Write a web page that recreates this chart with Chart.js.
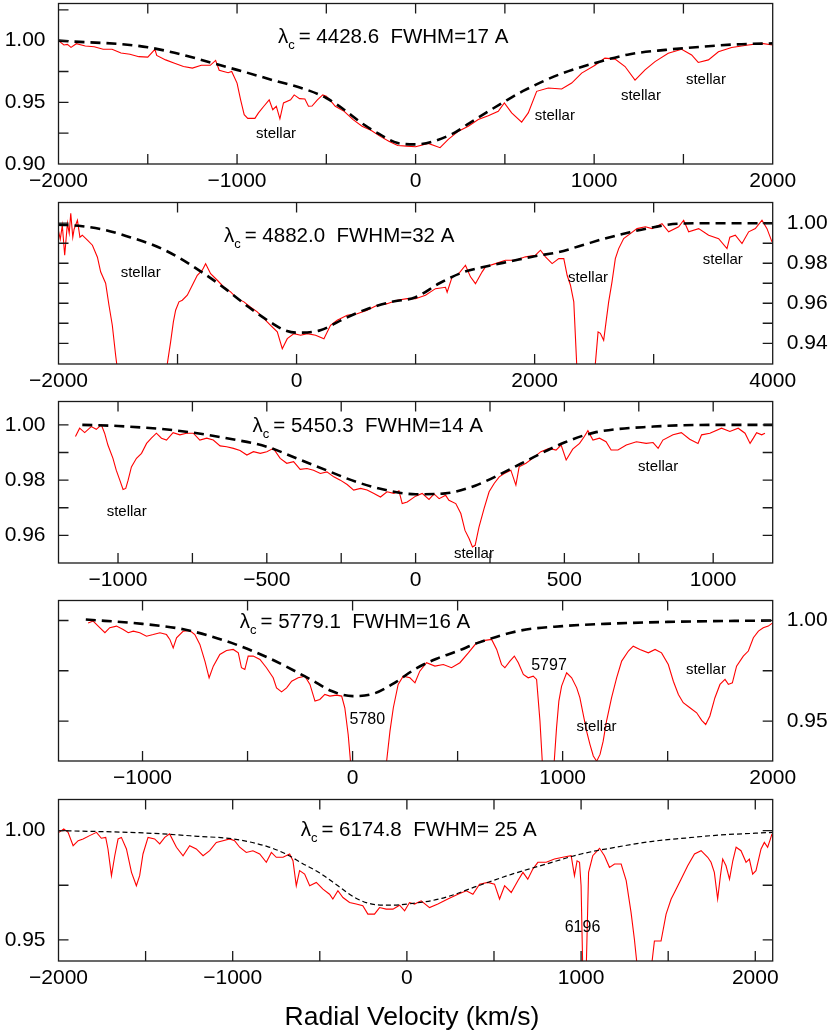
<!DOCTYPE html>
<html>
<head>
<meta charset="utf-8">
<script src="https://cdn.jsdelivr.net/npm/chart.js@4"></script>
<style>
  body { margin: 0; background: #fff; width: 830px; height: 1034px; position: relative; overflow: hidden;
         font-family: "Liberation Sans", Arial, sans-serif; }
  canvas { position: absolute; left: 0; }
  #xtitle { position: absolute; left: -3px; width: 830px; top: 1003px; text-align: center;
            font-size: 26.5px; line-height: 26.5px; color: #000; }
</style>
</head>
<body>
<canvas id="p1"></canvas>
<canvas id="p2"></canvas>
<canvas id="p3"></canvas>
<canvas id="p4"></canvas>
<canvas id="p5"></canvas>
<div id="xtitle">Radial Velocity (km/s)</div>
<script>
// ---------- Panel 1 : 4428.6 ----------
const p1Vel = [-2000,-1970,-1950,-1930,-1900,-1850,-1800,-1750,-1700,-1650,-1600,-1550,-1500,-1460,-1450,-1400,-1350,-1300,-1250,-1200,
  -1150,-1120,-1100,-1050,-1030,-1000,-980,-960,-940,-900,-880,-850,-820,-800,-780,-760,-740,-700,-680,-650,
  -620,-600,-580,-550,-520,-500,-480,-450,-400,-350,-300,-250,-200,-150,-100,-50,0,71,137,183,
  240,295,351,407,463,497,538,594,631,678,743,818,874,930,1005,1060,1117,1173,1229,1285,
  1341,1415,1490,1546,1583,1640,1696,1770,1863,1938,2000];
const p1Flux = [1.000,0.9965,0.997,0.9945,0.9975,0.9957,0.995,0.993,0.993,0.990,0.989,0.987,0.9866,0.993,0.988,0.9844,0.9817,0.979,0.9777,0.980,
  0.980,0.984,0.976,0.974,0.975,0.9656,0.952,0.940,0.937,0.937,0.9414,0.9468,0.952,0.944,0.9468,0.9366,0.9495,0.952,0.956,0.953,
  0.9527,0.9468,0.947,0.952,0.956,0.955,0.952,0.9468,0.9427,0.936,0.9306,0.9274,0.9226,0.9185,0.915,0.9145,0.914,0.9167,0.9132,0.920,
  0.9266,0.9306,0.936,0.9392,0.9427,0.9495,0.9414,0.9339,0.9414,0.9589,0.9616,0.9608,0.9656,0.9737,0.980,0.9858,0.985,0.979,0.968,0.9763,
  0.983,0.9898,0.993,0.9884,0.9823,0.9844,0.991,0.9944,0.9965,0.9978,0.9965];
const p1FitVel = [-2000,-1500,-1000,-800,-600,-500,-400,-300,-200,-100,0,200,300,400,500,600,800,1000,1200,1400,1600,1800,2000];
const p1FitFlux = [1.0,0.9946,0.9763,0.968,0.9597,0.9535,0.944,0.933,0.924,0.917,0.9159,0.924,0.933,0.942,0.9508,0.959,0.9723,0.9817,0.989,0.9925,0.995,0.997,0.9978];
const p1XTicks = [-2000,-1000,0,1000,2000];
const p1YTicks = [0.90,0.95,1.00];
const p1Header = ['4428.6', 'FWHM=17 A'];
const p1NoteText = ['stellar','stellar','stellar','stellar'];
const p1NoteVel = [-782,780,1262,1626];
const p1NoteFlux = [0.9213,0.936,0.9522,0.9651];

// ---------- Panel 2 : 4882.0 ----------
const p2Vel = [-2000,-1985,-1968,-1948,-1925,-1910,-1897,-1880,-1869,-1841,-1820,-1800,-1757,-1715,-1673,-1646,-1604,-1576,-1548,-1520,
  -1480,-1150,-1086,-1058,-1035,-1016,-988,-960,-918,-876,-834,-792,-764,-722,-666,-610,-554,-498,-442,-386,
  -330,-274,-218,-162,-120,-78,-22,34,90,160,230,285,341,425,509,593,677,761,845,929,
  999,1083,1167,1251,1265,1307,1363,1419,1461,1503,1559,1587,1671,1755,1839,1923,2007,2049,2091,2147,
  2203,2245,2273,2301,2329,2357,2500,2510,2533,2552,2580,2600,2622,2650,2678,2706,2748,2804,2860,2930,
  2986,3070,3126,3210,3252,3294,3378,3462,3546,3616,3640,3686,3742,3798,3854,3910,3952,3994];
const p2Flux = [0.996,0.992,0.999,0.984,1.000,0.995,1.005,0.993,0.997,1.0015,0.993,0.994,0.9915,0.989,0.983,0.9757,0.970,0.959,0.949,0.934,
  0.915,0.915,0.9297,0.9407,0.9507,0.9565,0.9607,0.9615,0.964,0.969,0.974,0.9765,0.9798,0.9748,0.9715,0.968,0.9657,0.9623,0.9607,0.958,
  0.9557,0.9523,0.949,0.9457,0.9373,0.9423,0.9448,0.944,0.9448,0.944,0.9423,0.949,0.9515,0.954,0.9548,0.9565,0.959,0.9598,0.9615,0.9623,
  0.9623,0.964,0.9673,0.968,0.9655,0.9732,0.9748,0.979,0.9732,0.9698,0.9757,0.9782,0.9798,0.9815,0.9815,0.9832,0.984,0.9865,0.9832,0.9798,
  0.9823,0.9823,0.974,0.969,0.9607,0.925,0.925,0.9297,0.9457,0.945,0.9415,0.9507,0.9607,0.9707,0.9823,0.9873,0.9923,0.9948,0.9973,0.9982,
  0.9973,0.9998,0.9957,0.9982,1.0015,0.9957,0.9973,0.994,0.9923,0.9873,0.993,0.994,0.9898,0.9957,0.9973,1.0015,0.9973,0.9907];
const p2FitVel = [-2000,-1800,-1600,-1400,-1200,-1000,-800,-600,-400,-200,-100,0,200,400,600,800,1000,1200,1400,1600,1800,2000,2200,2400,2600,2800,3000,3200,3500,4000];
const p2FitFlux = [0.9993,0.9985,0.9965,0.993,0.989,0.9832,0.9757,0.9673,0.958,0.9498,0.9465,0.9453,0.9465,0.9523,0.9573,0.9607,0.963,0.970,0.9755,0.9785,0.981,0.9835,0.9855,0.989,0.9925,0.9955,0.998,0.9997,1.0,1.0];
const p2XTicks = [-2000,0,2000,4000];
const p2YTicks = [0.94,0.96,0.98,1.00];
const p2Header = ['4882.0', 'FWHM=32 A'];
const p2NoteText = ['stellar','stellar','stellar'];
const p2NoteVel = [-1310,2448,3581];
const p2NoteFlux = [0.9732,0.9707,0.9795];

// ---------- Panel 3 : 5450.3 ----------
const p3Vel = [-1143,-1129,-1112,-1090,-1073,-1056,-1045,-1034,-1017,-1006,-994,-983,-974,-966,-955,-938,-921,-904,-888,-871,
  -854,-837,-815,-792,-770,-747,-725,-702,-680,-657,-635,-612,-590,-567,-545,-522,-500,-478,-455,-433,
  -410,-388,-365,-343,-320,-298,-275,-253,-230,-208,-185,-163,-140,-118,-96,-73,-56,-45,-28,0,
  22,45,62,79,101,112,135,152,166,180,191,200,213,230,247,264,281,298,320,337,
  348,371,393,421,449,472,489,506,528,551,567,579,596,618,640,657,680,708,742,775,
  798,815,831,865,893,921,949,961,989,1028,1056,1084,1107,1124,1135,1146,1163,1174];
const p3Flux = [0.9958,0.9988,0.9972,0.9994,0.9984,1.0,0.997,0.9927,0.9879,0.9836,0.980,0.9766,0.977,0.980,0.9848,0.9879,0.9897,0.9933,0.9952,0.997,
  0.9952,0.9945,0.9972,0.9964,0.997,0.997,0.9945,0.9952,0.9945,0.9924,0.9921,0.9915,0.9907,0.9891,0.9903,0.9897,0.9903,0.9915,0.9879,0.9861,
  0.9867,0.9839,0.9842,0.9836,0.9824,0.983,0.9812,0.980,0.9784,0.9764,0.977,0.9764,0.9752,0.9739,0.9758,0.9752,0.9761,0.9715,0.9721,0.9742,
  0.9752,0.973,0.975,0.9733,0.9745,0.9727,0.9715,0.9679,0.9618,0.9588,0.9558,0.9564,0.963,0.9697,0.9758,0.9788,0.9812,0.9824,0.9836,0.9782,
  0.9848,0.9861,0.9879,0.9903,0.9915,0.9909,0.9927,0.9873,0.9912,0.9933,0.9958,0.9979,0.9945,0.9952,0.9939,0.9909,0.9909,0.9927,0.9939,0.9933,
  0.9936,0.9915,0.9945,0.9964,0.9972,0.9948,0.9933,0.9964,0.997,0.9988,0.9976,0.9988,0.997,0.9933,0.9952,0.9972,0.9964,0.997];
const p3FitVel = [-1120,-1000,-800,-600,-500,-400,-300,-200,-100,0,100,200,300,400,500,600,800,1000,1200];
const p3FitFlux = [1.0,0.9996,0.9979,0.9945,0.9921,0.9879,0.9836,0.9794,0.9764,0.9749,0.9752,0.978,0.983,0.9885,0.9936,0.9972,0.9994,1.0,1.0];
const p3XTicks = [-1000,-500,0,500,1000];
const p3YTicks = [0.96,0.98,1.00];
const p3Header = ['5450.3', 'FWHM=14 A'];
const p3NoteText = ['stellar','stellar','stellar'];
const p3NoteVel = [-971,196,815];
const p3NoteFlux = [0.9669,0.95175,0.98327];

// ---------- Panel 4 : 5779.1 ----------
const p4Vel = [-1259,-1235,-1211,-1179,-1156,-1124,-1092,-1068,-1044,-1013,-981,-949,-917,-886,-870,-854,-838,-806,-775,-751,
  -727,-703,-683,-663,-632,-600,-568,-544,-529,-513,-497,-473,-441,-410,-378,-362,-338,-314,-290,-259,
  -227,-203,-179,-156,-132,-108,-76,-52,-37,-21,-10,0,150,162,178,194,217,241,273,297,
  320,352,392,432,471,511,551,590,630,662,686,709,725,749,770,789,813,836,860,876,
  892,903,910,955,960,971,982,995,1019,1043,1067,1082,1098,1114,1130,1146,1162,1178,1193,1209,
  1233,1257,1281,1313,1336,1368,1408,1440,1471,1503,1527,1551,1574,1606,1638,1662,1681,1701,1725,1749,
  1773,1789,1808,1828,1860,1884,1908,1932,1955,1979,2000];
const p4Flux = [0.9988,0.9997,0.9972,0.9939,0.9964,0.9972,0.9955,0.9939,0.9947,0.9939,0.9922,0.993,0.9939,0.993,0.9906,0.9864,0.9914,0.9947,0.995,0.993,
  0.9881,0.9798,0.9715,0.9773,0.9831,0.9851,0.9856,0.9839,0.9765,0.9756,0.9823,0.9823,0.9806,0.9765,0.9715,0.9665,0.9645,0.9665,0.9698,0.9715,
  0.9723,0.9682,0.9599,0.9607,0.9632,0.9624,0.9629,0.9624,0.9566,0.9433,0.930,0.915,0.915,0.930,0.945,0.9566,0.9682,0.9723,0.9715,0.969,
  0.9748,0.979,0.9773,0.9781,0.9765,0.979,0.9839,0.9889,0.9901,0.9906,0.9856,0.9781,0.9765,0.9798,0.9823,0.979,0.9732,0.9715,0.9723,0.9707,
  0.95,0.930,0.915,0.915,0.930,0.9467,0.9599,0.9674,0.974,0.9715,0.9665,0.9616,0.9533,0.945,0.9384,0.9326,0.930,0.9334,0.94,0.95,
  0.9616,0.9715,0.9798,0.9848,0.9872,0.9856,0.9839,0.9856,0.9839,0.9781,0.9698,0.9632,0.9591,0.9566,0.9541,0.9503,0.9483,0.9525,0.9616,0.9682,
  0.9707,0.9682,0.969,0.9773,0.9823,0.9848,0.9914,0.9947,0.9964,0.9972,0.9988];
const p4FitVel = [-1270,-1000,-800,-600,-400,-200,-100,0,100,200,300,400,500,600,800,1000,1200,1500,2000];
const p4FitFlux = [1.0005,0.9983,0.9955,0.9897,0.9814,0.9707,0.9649,0.9624,0.9636,0.969,0.976,0.981,0.9848,0.989,0.995,0.9972,0.9983,0.9993,1.0];
const p4XTicks = [-1000,0,1000,2000];
const p4YTicks = [0.95,1.00];
const p4Header = ['5779.1', 'FWHM=16 A'];
const p4NoteText = ['5780','5797','stellar','stellar'];
const p4NoteVel = [70,935,1161,1682];
const p4NoteFlux = [0.9483,0.97515,0.94503,0.97351];

// ---------- Panel 5 : 6174.8 ----------
const p5Vel = [-1997,-1970,-1945,-1916,-1887,-1859,-1821,-1782,-1754,-1729,-1716,-1696,-1677,-1658,-1639,-1610,-1581,-1553,-1534,-1515,
  -1486,-1448,-1419,-1390,-1362,-1323,-1285,-1247,-1209,-1170,-1132,-1094,-1056,-1017,-989,-960,-922,-884,-845,-807,
  -778,-750,-711,-673,-654,-635,-616,-587,-558,-520,-482,-444,-425,-396,-367,-329,-291,-253,-224,-186,
  -157,-119,-80,-42,-13,15,44,82,130,178,235,293,341,379,417,465,503,532,561,599,
  637,666,694,723,752,800,847,895,943,962,977,991,1000,1010,1029,1043,1067,1106,1134,1163,
  1192,1230,1259,1287,1306,1326,1400,1421,1459,1488,1517,1536,1574,1612,1651,1689,1727,1746,1765,1784,
  1800,1813,1832,1852,1871,1890,1918,1947,1966,1985,2004,2033,2052,2071,2087,2096];
const p5Flux = [0.9992,1.0008,0.9992,0.9931,0.9954,0.9962,0.9977,0.9992,0.9965,0.9969,0.9916,0.9794,0.9885,0.9962,0.9969,0.9916,0.9809,0.9748,0.9794,0.9893,
  0.9969,0.9962,0.9939,0.9969,0.9985,0.9924,0.9885,0.9931,0.9916,0.9885,0.9908,0.9946,0.9954,0.9962,0.9954,0.9924,0.99,0.9908,0.9893,0.9855,
  0.99,0.9878,0.9878,0.9893,0.9862,0.9748,0.9817,0.9801,0.9748,0.9763,0.9732,0.9709,0.9687,0.9725,0.9694,0.9671,0.9664,0.9656,0.9618,0.9618,
  0.9648,0.9641,0.9641,0.9659,0.9633,0.9671,0.9664,0.9679,0.9648,0.9664,0.9687,0.9709,0.9725,0.9709,0.9755,0.9763,0.9755,0.9687,0.9748,0.9717,
  0.9771,0.9809,0.9778,0.9824,0.9855,0.9855,0.987,0.9878,0.9885,0.9794,0.9862,0.9855,0.9748,0.935,0.935,0.9809,0.9885,0.9919,0.9885,0.9832,
  0.9847,0.9847,0.9771,0.9625,0.9503,0.935,0.935,0.9495,0.9495,0.9618,0.9687,0.9717,0.9778,0.9839,0.9893,0.9908,0.9878,0.9855,0.9809,0.9687,
  0.9794,0.987,0.9839,0.9778,0.9862,0.9924,0.9908,0.9855,0.987,0.9801,0.9817,0.9916,0.9946,0.9924,0.9962,0.9985];
const p5FitVel = [-2000,-1500,-1200,-1000,-800,-700,-600,-500,-400,-300,-200,-100,0,200,400,600,800,1000,1200,1400,1600,1800,2000,2100];
const p5FitFlux = [1.0,0.9989,0.9974,0.9962,0.9927,0.9895,0.985,0.9806,0.975,0.9694,0.9664,0.9659,0.9664,0.969,0.9745,0.980,0.9847,0.9893,0.9924,0.995,0.9966,0.998,0.9988,0.9992];
const p5XTicks = [-2000,-1000,0,1000,2000];
const p5YTicks = [0.95,1.00];
const p5Header = ['6174.8', 'FWHM= 25 A'];
const p5NoteText = ['6196'];
const p5NoteVel = [1008];
const p5NoteFlux = [0.9538];

// ---------- Helpers ----------
const FONT = '"Liberation Sans", Arial, sans-serif';
Chart.defaults.font.family = FONT;
Chart.defaults.color = '#000';

const zip = (xs, ys) => xs.map((v, i) => ({ x: v, y: ys[i] }));
const signed = v => (v < 0 ? '\u2212' + Math.abs(v) : String(v));

// box round the plot with inward ticks
const framePlugin = {
  id: 'frame',
  afterDraw(chart, args, o) {
    const { ctx, chartArea: a, scales: { x, y } } = chart;
    ctx.save();
    ctx.strokeStyle = '#1a1a1a';
    ctx.lineWidth = 1.3;
    ctx.strokeRect(a.left, a.top, a.right - a.left, a.bottom - a.top);
    ctx.beginPath();
    for (let k = Math.ceil(x.min / o.xStep); k * o.xStep <= x.max; k++) {
      const px = x.getPixelForValue(k * o.xStep);
      if (px <= a.left + 2 || px >= a.right - 2) continue;
      ctx.moveTo(px, a.top); ctx.lineTo(px, a.top + o.tick);
      ctx.moveTo(px, a.bottom); ctx.lineTo(px, a.bottom - o.tick);
    }
    for (let k = Math.ceil(y.min / o.yStep - 1e-6); k * o.yStep <= y.max + 1e-9; k++) {
      const py = y.getPixelForValue(k * o.yStep);
      if (py <= a.top + 2 || py >= a.bottom - 2) continue;
      if (o.left) { ctx.moveTo(a.left, py); ctx.lineTo(a.left + o.tick, py); }
      if (o.right) { ctx.moveTo(a.right, py); ctx.lineTo(a.right - o.tick, py); }
    }
    ctx.stroke();
    ctx.restore();
  }
};

// lambda header and line labels
const notesPlugin = {
  id: 'notes',
  afterDatasetsDraw(chart, args, o) {
    const { ctx, scales: { x, y } } = chart;
    ctx.save();
    ctx.fillStyle = '#000';
    ctx.textAlign = 'left';
    ctx.textBaseline = 'alphabetic';
    let px = x.getPixelForValue(o.hx);
    const py = y.getPixelForValue(o.hy);
    ctx.font = '20.5px ' + FONT;
    ctx.fillText('\u03bb', px, py);
    px += ctx.measureText('\u03bb').width;
    ctx.font = '13px ' + FONT;
    ctx.fillText('c', px, py + 6);
    px += ctx.measureText('c').width + 4;
    ctx.font = '20.5px ' + FONT;
    ctx.fillText('= ' + o.header[0] + '  ' + o.header[1], px, py);
    ctx.textAlign = 'center';
    o.text.forEach((t, i) => {
      ctx.font = (/^\d+$/.test(t) ? '16px ' : '15px ') + FONT;
      ctx.fillText(t, x.getPixelForValue(o.vel[i]), y.getPixelForValue(o.flux[i]));
    });
    ctx.restore();
  }
};

function makePanel(id, p) {
  const pad = 3.5, axisH = 36;
  const canvas = document.getElementById(id);
  const h = Math.round(p.bottom - p.top + pad + axisH);
  canvas.width = 830; canvas.height = h;
  canvas.style.width = '830px'; canvas.style.height = h + 'px';
  canvas.style.top = (p.top - pad) + 'px';
  const right = p.side === 'right';

  new Chart(canvas, {
    type: 'line',
    data: {
      datasets: [
        { data: zip(p.fitVel, p.fitFlux), borderColor: '#000', borderWidth: p.fitWidth, borderDash: p.dash,
          pointRadius: 0, cubicInterpolationMode: 'monotone', fill: false },
        { data: zip(p.vel, p.flux), borderColor: '#ff0000', borderWidth: 1.1, pointRadius: 0, tension: 0, fill: false }
      ]
    },
    plugins: [framePlugin, notesPlugin],
    options: {
      responsive: false,
      animation: false,
      layout: { padding: { top: pad, bottom: 0, left: right ? 58.5 : 0, right: right ? 0 : 57.3 } },
      plugins: {
        legend: { display: false },
        tooltip: { enabled: false },
        frame: { xStep: p.xStep, yStep: p.yStep, tick: 10, left: true, right: p.rightTicks },
        notes: { header: p.header, hx: p.hx, hy: p.hy, text: p.noteText, vel: p.noteVel, flux: p.noteFlux }
      },
      scales: {
        x: {
          type: 'linear', min: p.xMin, max: p.xMax,
          grid: { display: false, drawTicks: false }, border: { display: false },
          ticks: { font: { size: 21 }, padding: 5, maxRotation: 0, autoSkip: false, callback: v => signed(v) },
          afterBuildTicks: s => { s.ticks = p.xTicks.map(v => ({ value: v })); },
          afterFit: s => { s.height = axisH; s.paddingLeft = 0; s.paddingRight = 0; }
        },
        y: {
          type: 'linear', position: p.side, min: p.yMin, max: p.yMax,
          grid: { display: false, drawTicks: false }, border: { display: false },
          ticks: { font: { size: 21 }, padding: right ? 14 : 13, callback: v => v.toFixed(2) },
          afterBuildTicks: s => { s.ticks = p.yTicks.map(v => ({ value: v })); },
          afterFit: s => { s.width = right ? 57.3 : 58.5; s.paddingTop = 0; s.paddingBottom = 0; }
        }
      }
    }
  });
}

// ---------- Init ----------
const thick = { fitWidth: 2.6, dash: [10, 6] };
makePanel('p1', { ...thick, top: 3.5, bottom: 164.3, side: 'left', rightTicks: false,
  xMin: -2000, xMax: 2000, xStep: 500, yMin: 0.90, yMax: 1.0301, yStep: 0.025,
  vel: p1Vel, flux: p1Flux, fitVel: p1FitVel, fitFlux: p1FitFlux, xTicks: p1XTicks, yTicks: p1YTicks,
  header: p1Header, hx: -771, hy: 0.9979, noteText: p1NoteText, noteVel: p1NoteVel, noteFlux: p1NoteFlux });
makePanel('p2', { ...thick, top: 202.3, bottom: 363.7, side: 'right', rightTicks: true,
  xMin: -2000, xMax: 4000, xStep: 1000, yMin: 0.92965, yMax: 1.01035, yStep: 0.01,
  vel: p2Vel, flux: p2Flux, fitVel: p2FitVel, fitFlux: p2FitFlux, xTicks: p2XTicks, yTicks: p2YTicks,
  header: p2Header, hx: -610, hy: 0.9907, noteText: p2NoteText, noteVel: p2NoteVel, noteFlux: p2NoteFlux });
makePanel('p3', { ...thick, top: 401.7, bottom: 562.7, side: 'left', rightTicks: true,
  xMin: -1200, xMax: 1200, xStep: 250, yMin: 0.95, yMax: 1.00847, yStep: 0.01,
  vel: p3Vel, flux: p3Flux, fitVel: p3FitVel, fitFlux: p3FitFlux, xTicks: p3XTicks, yTicks: p3YTicks,
  header: p3Header, hx: -548, hy: 0.99756, noteText: p3NoteText, noteVel: p3NoteVel, noteFlux: p3NoteFlux });
makePanel('p4', { ...thick, top: 600.7, bottom: 761.3, side: 'right', rightTicks: true,
  xMin: -1400, xMax: 2000, xStep: 500, yMin: 0.93012, yMax: 1.00994, yStep: 0.025,
  vel: p4Vel, flux: p4Flux, fitVel: p4FitVel, fitFlux: p4FitFlux, xTicks: p4XTicks, yTicks: p4YTicks,
  header: p4Header, hx: -537, hy: 0.99637, noteText: p4NoteText, noteVel: p4NoteVel, noteFlux: p4NoteFlux });
makePanel('p5', { fitWidth: 1.2, dash: [5, 3], top: 799, bottom: 960, side: 'left', rightTicks: true,
  xMin: -2000, xMax: 2100, xStep: 500, yMin: 0.94037, yMax: 1.01422, yStep: 0.025,
  vel: p5Vel, flux: p5Flux, fitVel: p5FitVel, fitFlux: p5FitFlux, xTicks: p5XTicks, yTicks: p5YTicks,
  header: p5Header, hx: -610, hy: 0.9977, noteText: p5NoteText, noteVel: p5NoteVel, noteFlux: p5NoteFlux });
</script>
</body>
</html>
